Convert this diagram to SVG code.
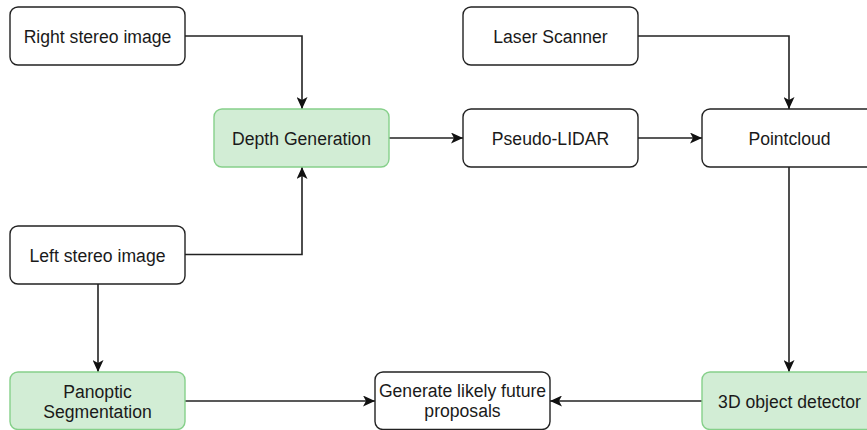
<svg xmlns="http://www.w3.org/2000/svg" width="867" height="430" viewBox="0 0 867 430">
<style>
.box{fill:#ffffff;stroke:#222222;stroke-width:1.4}
.g{fill:#d2edd5;stroke:#86d08a;stroke-width:1.4}
.t{font-family:"Liberation Sans",Arial,sans-serif;font-size:17.6px;fill:#1a1a1a;text-anchor:middle;dominant-baseline:central}
.c{fill:none;stroke:#222222;stroke-width:1.6}
</style>
<defs>
<marker id="a" viewBox="0 0 12 11" refX="12" refY="5.5" markerWidth="12" markerHeight="11" markerUnits="userSpaceOnUse" orient="auto">
<path d="M0,0 L12,5.5 L0,11 L3,5.5 z" fill="#111111"/>
</marker>
</defs>
<rect width="867" height="430" fill="#ffffff"/>
<g id="connectors">
<path class="c" d="M185,36 H302 V109" marker-end="url(#a)"/>
<path class="c" d="M185,254.5 H302 V167" marker-end="url(#a)"/>
<path class="c" d="M389,138 H463" marker-end="url(#a)"/>
<path class="c" d="M638,138 H702" marker-end="url(#a)"/>
<path class="c" d="M638,36 H789 V109" marker-end="url(#a)"/>
<path class="c" d="M789,167 V372" marker-end="url(#a)"/>
<path class="c" d="M98,284 V372" marker-end="url(#a)"/>
<path class="c" d="M185,401 H375" marker-end="url(#a)"/>
<path class="c" d="M702,401 H550" marker-end="url(#a)"/>
</g>
<g id="right-stereo"><rect class="box" x="10" y="7" width="175" height="58" rx="8"/><text class="t" x="97.5" y="37">Right stereo image</text></g>
<g id="depth-generation"><rect class="g" x="214" y="109" width="175" height="58" rx="8"/><text class="t" x="301.5" y="139">Depth Generation</text></g>
<g id="left-stereo"><rect class="box" x="10" y="226" width="175" height="58" rx="8"/><text class="t" x="97.5" y="256">Left stereo image</text></g>
<g id="laser-scanner"><rect class="box" x="463" y="7" width="175" height="58" rx="8"/><text class="t" x="550.5" y="37">Laser Scanner</text></g>
<g id="pseudo-lidar"><rect class="box" x="463" y="109" width="175" height="58" rx="8"/><text class="t" x="550.5" y="139">Pseudo-LIDAR</text></g>
<g id="pointcloud"><rect class="box" x="702" y="109" width="175" height="58" rx="8"/><text class="t" x="789.5" y="139">Pointcloud</text></g>
<g id="panoptic"><rect class="g" x="10" y="372" width="175" height="57.5" rx="8"/><text class="t" x="97.5" y="391.5">Panoptic</text><text class="t" x="97.5" y="411.5">Segmentation</text></g>
<g id="generate"><rect class="box" x="375" y="372" width="175" height="57.5" rx="8"/><text class="t" x="462.5" y="390.5">Generate likely future</text><text class="t" x="462.5" y="410.5">proposals</text></g>
<g id="detector"><rect class="g" x="702" y="372" width="175" height="57.5" rx="8"/><text class="t" x="789.5" y="401.5">3D object detector</text></g>
</svg>
